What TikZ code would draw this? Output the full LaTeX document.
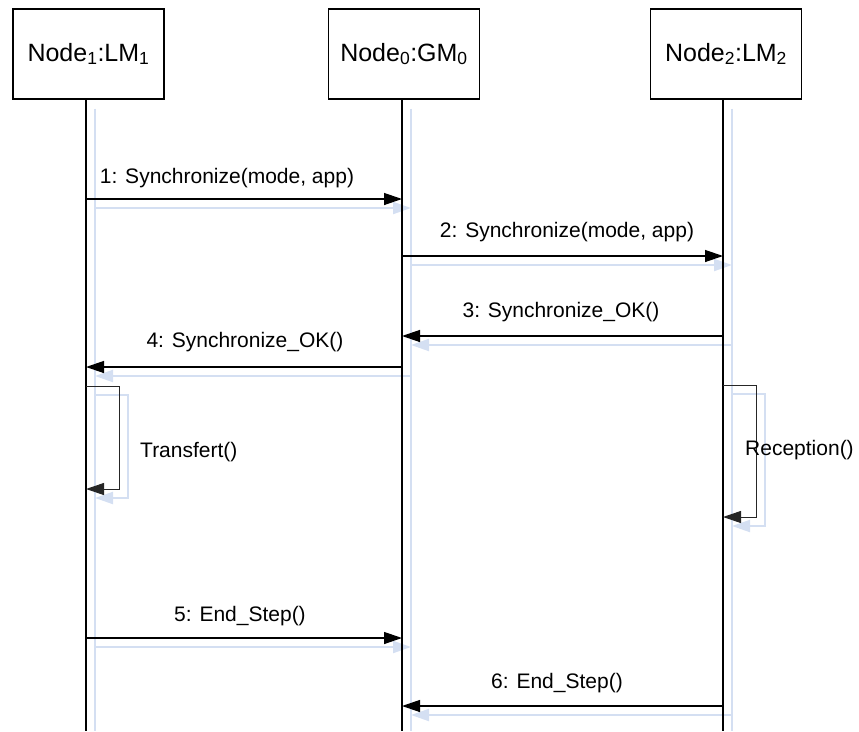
\documentclass[tikz,border=0pt]{standalone}
\usepackage{fontspec}
\setmainfont{Liberation Sans}
\usetikzlibrary{arrows.meta,calc}

\definecolor{shadowblue}{RGB}{212,223,242}

\tikzset{
  objbox/.style={draw, line width=1.3pt, minimum width=151pt, minimum height=90pt, inner sep=0pt, font=\fontsize{25}{30}\selectfont},
  lifeline/.style={line width=1.3pt},
  msg/.style={line width=1.3pt, -{Triangle[length=18pt,width=12pt]}},
  selfmsg/.style={line width=1pt, draw=black!85, -{Triangle[length=18pt,width=12pt]}},
  shline/.style={draw=shadowblue, line width=2pt},
  shmsg/.style={draw=shadowblue, line width=2pt, -{Triangle[length=18pt,width=12pt]}},
  msglabel/.style={font=\fontsize{21}{25}\selectfont, inner sep=0pt},
}

\begin{document}
\begin{tikzpicture}[x=1pt, y=-1pt]
    \useasboundingbox (0,0) rectangle (859,731);

    % object boxes and the points where the lifelines start
    \node[objbox] (n1) at (88.5,54) {Node\textsubscript{1}:LM\textsubscript{1}};
    \node[objbox] (n0) at (404,54) {Node\textsubscript{0}:GM\textsubscript{0}};
    \node[objbox] (n2) at (726,54) {Node\textsubscript{2}:LM\textsubscript{2}};
    \coordinate (l1) at ([xshift=-2.5pt]n1.south);
    \coordinate (l0) at ([xshift=-2pt]n0.south);
    \coordinate (l2) at ([xshift=-3pt]n2.south);

    % light shadows first
    \foreach \l in {l1,l0,l2} {
        \draw[shline] ($(\l)+(9,9)$) -- ($(\l |- 0,731)+(9,0)$);
    }
    \foreach \from/\to/\y in {l1/l0/199, l0/l2/256, l2/l0/336, l0/l1/367, l1/l0/638, l2/l0/706} {
        \draw[shmsg] ($(\from |- 0,\y)+(9,9)$) -- ($(\to |- 0,\y)+(9,9)$);
    }
    \draw[shmsg] ($(l1 |- 0,386)+(9,9)$) -- ++(33,0) |- ($(l1 |- 0,489)+(9,9)$);
    \draw[shmsg] ($(l2 |- 0,385)+(9,9)$) -- ++(33,0) |- ($(l2 |- 0,517)+(9,9)$);

    % lifelines
    \foreach \l in {l1,l0,l2} {
        \draw[lifeline] (\l) -- (\l |- 0,731);
    }

    % messages
    \foreach \from/\to/\y in {l1/l0/199, l0/l2/256, l2/l0/336, l0/l1/367, l1/l0/638, l2/l0/706} {
        \draw[msg] (\from |- 0,\y) -- (\to |- 0,\y);
    }
    \draw[selfmsg] (l1 |- 0,386) -- ++(33,0) |- (l1 |- 0,489);
    \draw[selfmsg] (l2 |- 0,385) -- ++(33,0) |- (l2 |- 0,517);

    % labels
    \node[msglabel] (t1) at (227,178) {1: Synchronize(mode, app)};
    \node[msglabel] (t2) at (567,232) {2: Synchronize(mode, app)};
    \node[msglabel] (t3) at (561,312) {3: Synchronize\_OK()};
    \node[msglabel] (t4) at (245,342) {4: Synchronize\_OK()};
    \node[msglabel, anchor=west] (t7) at (140,452) {Transfert()};
    \node[msglabel, anchor=west] (t8) at (745,450) {Reception()};
    \node[msglabel] (t5) at (240,616) {5: End\_Step()};
    \node[msglabel] (t6) at (557,683) {6: End\_Step()};
\end{tikzpicture}
\end{document}
